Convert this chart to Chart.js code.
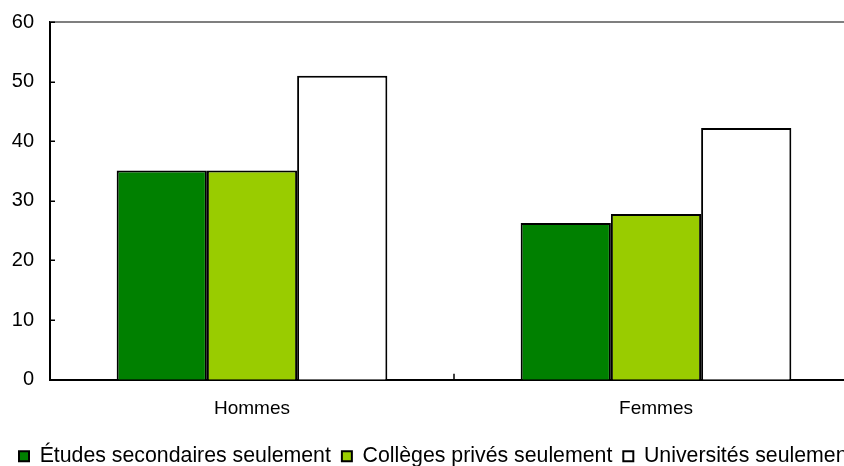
<!DOCTYPE html>
<html><head><meta charset="utf-8">
<script src="https://cdn.jsdelivr.net/npm/chart.js@4/dist/chart.umd.min.js"></script>
<style>
html,body{margin:0;padding:0;background:#fff;overflow:hidden;}
#wrap{width:844px;height:466px;overflow:hidden;position:relative;background:#fff;}
#c{position:absolute;left:0;top:0;}
</style></head><body>
<div id="wrap"><canvas id="c" width="874" height="477"></canvas></div>
<script>
const categories = ['Hommes', 'Femmes'];
const seriesNames = ['Études secondaires seulement', 'Collèges privés seulement', 'Universités seulement'];
const secondaire = [35.1, 26.3];
const colleges = [35.1, 27.8];
const universites = [51.0, 42.2];
const yTicks = [0, 10, 20, 30, 40, 50, 60];
const seriesColors = ['#008000', '#99cc00', '#ffffff'];

Chart.defaults.font.family = "'Liberation Sans', Arial, sans-serif";
Chart.defaults.color = '#000';

const framePlugin = {
  id: 'frame',
  afterDraw(chart) {
    const { ctx, chartArea: a, scales } = chart;
    const x = scales.x, y = scales.y;
    ctx.save();
    ctx.strokeStyle = '#7f7f7f';
    ctx.lineWidth = 2;
    ctx.beginPath(); ctx.moveTo(a.left, a.top); ctx.lineTo(a.right, a.top); ctx.stroke();
    ctx.strokeStyle = '#000';
    ctx.lineWidth = 1.5;
    yTicks.forEach(v => {
      const py = Math.round(y.getPixelForValue(v)) + 0.25;
      ctx.beginPath(); ctx.moveTo(a.left, py); ctx.lineTo(a.left + 5, py); ctx.stroke();
    });
    for (let i = 1; i < categories.length; i++) {
      const px = (x.getPixelForValue(i - 1) + x.getPixelForValue(i)) / 2;
      ctx.beginPath(); ctx.moveTo(px, a.bottom); ctx.lineTo(px, a.bottom - 6); ctx.stroke();
    }
    ctx.restore();
  }
};

const datasets = [secondaire, colleges, universites].map((d, i) => ({
  label: seriesNames[i],
  data: d,
  backgroundColor: seriesColors[i],
  borderColor: '#000',
  borderWidth: 2,
  categoryPercentage: 0.67,
  barPercentage: 1.0
}));

new Chart(document.getElementById('c'), {
  type: 'bar',
  data: { labels: categories, datasets },
  options: {
    responsive: false,
    animation: false,
    devicePixelRatio: 1,
    layout: { padding: { left: 8, top: 22, right: 0, bottom: 0 } },
    plugins: {
      tooltip: { enabled: false },
      legend: {
        position: 'bottom',
        align: 'start',
        labels: {
          boxWidth: 10, boxHeight: 10, padding: 11,
          font: { size: 21.3 }, color: '#000'
        }
      }
    },
    scales: {
      x: {
        grid: { display: false, drawTicks: false },
        border: { color: '#000', width: 2 },
        ticks: { font: { size: 19 }, color: '#000', padding: 18 },
        afterFit: s => { s.height = 55; s.paddingLeft = 0; s.paddingRight = 0; }
      },
      y: {
        min: 0, max: 60,
        afterBuildTicks: s => { s.ticks = yTicks.map(v => ({ value: v })); },
        grid: { display: false, drawTicks: false },
        border: { color: '#000', width: 2 },
        ticks: { font: { size: 20 }, color: '#000', padding: 16 },
        afterFit: s => { s.width = 42; s.paddingTop = 5; s.paddingBottom = 5; }
      },
      y2: {
        position: 'right',
        display: true,
        grid: { display: false, drawTicks: false },
        border: { display: false },
        ticks: { display: false },
        afterFit: s => { s.width = 16; }
      }
    }
  },
  plugins: [framePlugin]
});
</script>
</body></html>
